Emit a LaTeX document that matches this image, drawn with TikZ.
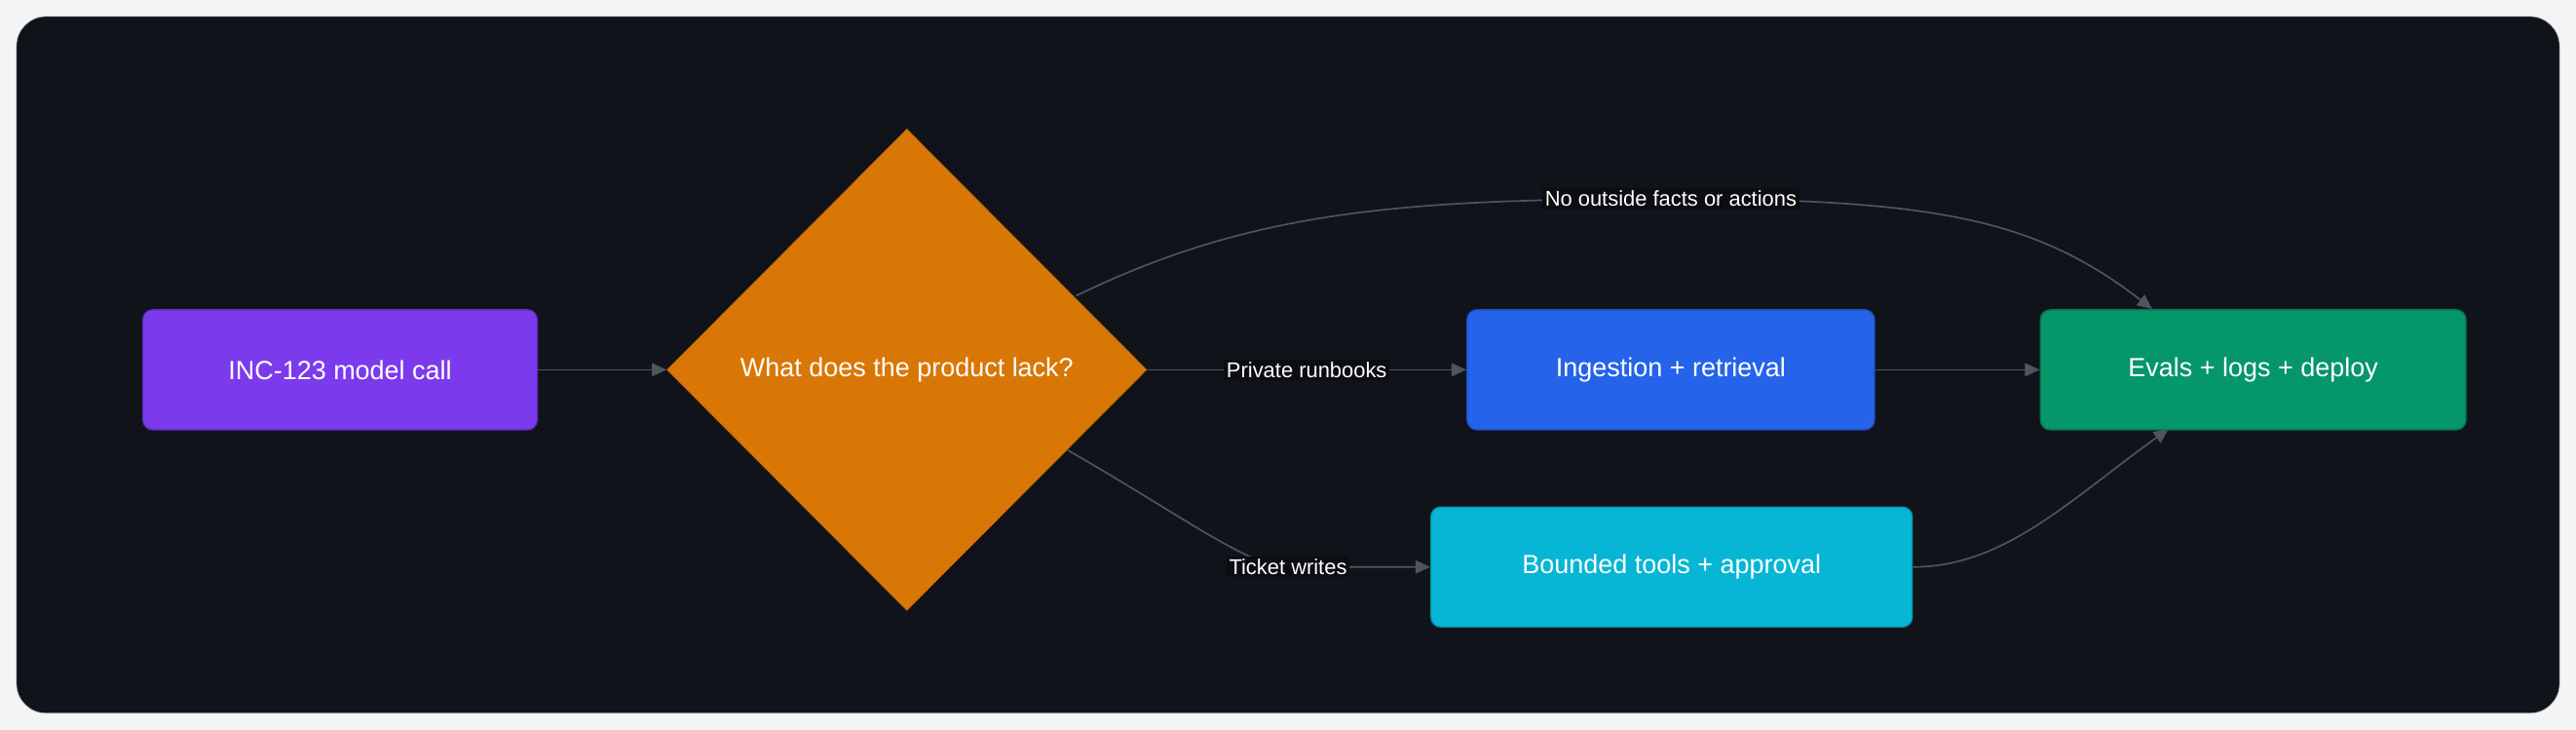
\documentclass[tikz,border=0pt]{standalone}
\usepackage{fontspec}
\setmainfont{Liberation Sans}
\usetikzlibrary{shapes.geometric,arrows.meta}
\definecolor{bgc}{HTML}{11131A}
\definecolor{pagec}{HTML}{F3F4F6}
\definecolor{edgec}{HTML}{4B5563}
\definecolor{purp}{HTML}{7C3AED}
\definecolor{orng}{HTML}{D97706}
\definecolor{blu}{HTML}{2563EB}
\definecolor{grn}{HTML}{059669}
\definecolor{cyn}{HTML}{06B6D4}
\definecolor{lblbg}{HTML}{0C0D11}
\begin{document}
\begin{tikzpicture}[x=1pt,y=1pt,
  box/.style={rounded corners=6pt,draw=#1!80!black,fill=#1,text=white,font=\fontsize{16}{19}\selectfont,line width=0.8pt},
  edge/.style={draw=edgec,line width=1pt,-{Triangle[length=9pt,width=8pt]}},
  lbl/.style={fill=lblbg,text=white,font=\fontsize{13}{15}\selectfont,inner sep=1.5pt}]
\useasboundingbox (0,0) rectangle (1568,444);
\fill[pagec] (0,0) rectangle (1568,444);
\fill[bgc,draw=gray!50,rounded corners=18pt] (10,10) rectangle (1558,434);
\node[box=purp,minimum width=240pt,minimum height=73pt] (inc) at (207,219) {INC-123 model call};
\node[diamond,draw=orng!85!black,fill=orng,text=white,font=\fontsize{16}{19}\selectfont,minimum width=292pt,minimum height=293pt,inner sep=0pt] (dia) at (552,219) {What does the product lack?};
\node[box=blu,minimum width=248pt,minimum height=73pt] (ing) at (1017,219) {Ingestion + retrieval};
\node[box=grn,minimum width=259pt,minimum height=73pt] (ev) at (1371.5,219) {Evals + logs + deploy};
\node[box=cyn,minimum width=293pt,minimum height=73pt] (bt) at (1017.5,99) {Bounded tools + approval};
\coordinate (dt) at (655,264);
\coordinate (db) at (650,170);
\coordinate (evt) at (1310,256);
\coordinate (evb) at (1320,183);
\draw[edge] (inc.east) -- (dia.west);
\draw[edge] (dia.east) -- node[lbl]{Private runbooks} (ing.west);
\draw[edge] (ing.east) -- (ev.west);
\draw[edge] (dt) .. controls (760,315) and (850,323) .. (1017,323) node[lbl]{No outside facts or actions} .. controls (1180,323) and (1240,310) .. (evt);
\draw[edge] (db) .. controls (720,130) and (760,99) .. (784,99) node[lbl]{Ticket writes} -- (bt.west);
\draw[edge] (bt.east) .. controls (1220,99) and (1260,140) .. (evb);
\end{tikzpicture}
\end{document}
